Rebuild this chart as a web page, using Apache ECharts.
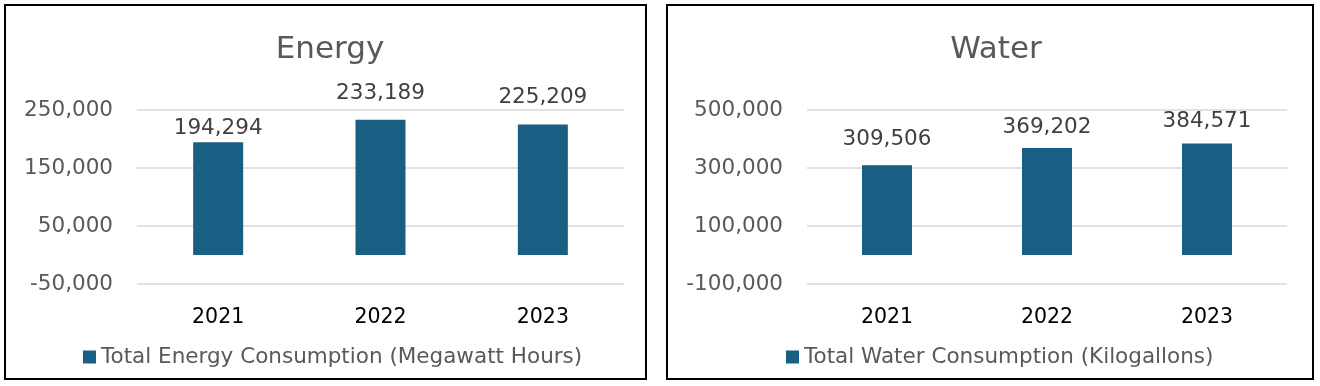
<!DOCTYPE html>
<html>
<head>
<meta charset="utf-8">
<script src="https://cdn.jsdelivr.net/npm/echarts@6/dist/echarts.min.js"></script>
<style>
html,body{margin:0;padding:0;background:#fff;}
#c{width:1320px;height:386px;}
</style>
</head>
<body>
<div id="c"></div>
<script>
const categories = ['2021', '2022', '2023'];
const energyValues = [194294, 233189, 225209];
const waterValues = [309506, 369202, 384571];
const energyTitle = 'Energy';
const waterTitle = 'Water';
const energySeriesName = 'Total Energy Consumption (Megawatt Hours)';
const waterSeriesName = 'Total Water Consumption (Kilogallons)';
const energyAxis = { min: -50000, max: 250000, interval: 100000 };
const waterAxis = { min: -100000, max: 500000, interval: 200000 };

// label gaps above bars (style only)
const energyLabelGap = [3, 15, 16];
const waterLabelGap = [15, 10, 11];

const FONT = '"DejaVu Sans", sans-serif';
const BAR = '#195E83';
const fmt = v => Number(v).toLocaleString('en-US');

const chart = echarts.init(document.getElementById('c'), null, { renderer: 'canvas' });

function yAxis(idx, a) {
  return {
    type: 'value', gridIndex: idx, min: a.min, max: a.max, interval: a.interval,
    axisLine: { show: false }, axisTick: { show: false },
    axisLabel: { formatter: fmt, color: '#595959', fontSize: 21.5, fontFamily: FONT, margin: 24 },
    splitLine: { lineStyle: { color: '#d9d9d9', width: 1.5 } }
  };
}
function xAxis(idx) {
  return {
    type: 'category', gridIndex: idx, data: categories,
    axisLine: { show: false }, axisTick: { show: false },
    axisLabel: { color: '#000', fontSize: 20.5, fontFamily: FONT, margin: 23 }
  };
}
function barSeries(idx, name, data, gaps) {
  return {
    type: 'bar', name: name, xAxisIndex: idx, yAxisIndex: idx,
    data: data.map((v, i) => ({ value: v, label: { distance: gaps[i] } })),
    barWidth: 50, itemStyle: { color: BAR },
    label: { show: true, position: 'top', formatter: p => fmt(p.value),
      color: '#404040', fontSize: 21.5, fontFamily: FONT }
  };
}

chart.setOption({
  animation: false,
  title: [
    { text: energyTitle, left: 325, top: 29, textAlign: 'center',
      textStyle: { color: '#595959', fontSize: 31, fontWeight: 'normal', fontFamily: FONT } },
    { text: waterTitle, left: 991, top: 29, textAlign: 'center',
      textStyle: { color: '#595959', fontSize: 31, fontWeight: 'normal', fontFamily: FONT } }
  ],
  legend: [
    { data: [energySeriesName], left: 83, top: 346, padding: 0, itemWidth: 13, itemHeight: 13, icon: 'rect',
      textStyle: { color: '#595959', fontSize: 21.5, fontFamily: FONT } },
    { data: [waterSeriesName], left: 786, top: 346, padding: 0, itemWidth: 13, itemHeight: 13, icon: 'rect',
      textStyle: { color: '#595959', fontSize: 21.5, fontFamily: FONT } }
  ],
  grid: [
    { left: 137, right: 696, top: 110, bottom: 102 },
    { left: 807, right: 33, top: 110, bottom: 102 }
  ],
  xAxis: [xAxis(0), xAxis(1)],
  yAxis: [yAxis(0, energyAxis), yAxis(1, waterAxis)],
  series: [
    barSeries(0, energySeriesName, energyValues, energyLabelGap),
    barSeries(1, waterSeriesName, waterValues, waterLabelGap)
  ],
  graphic: [
    { type: 'rect', shape: { x: 5, y: 5, width: 641, height: 374 },
      style: { fill: 'none', stroke: '#000', lineWidth: 2 } },
    { type: 'rect', shape: { x: 667, y: 5, width: 646, height: 374 },
      style: { fill: 'none', stroke: '#000', lineWidth: 2 } }
  ]
});
</script>
</body>
</html>
